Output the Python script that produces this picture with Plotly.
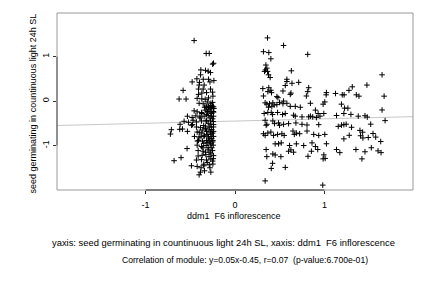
import plotly.graph_objects as go

# ddm1 F6 inflorescence (x) vs seed germinating in continuous light 24h SL (y)
left_group = [
    (-0.457, 1.36), (-0.322, 1.07), (-0.288, 1.07), (-0.240, 0.85), (-0.25, 0.83),
    (-0.382, 0.70), (-0.330, 0.69), (-0.300, 0.67), (-0.274, 0.64), (-0.385, 0.59),
    (-0.426, 0.50), (-0.355, 0.49), (-0.296, 0.49), (-0.479, 0.43), (-0.397, 0.42),
    (-0.28, 0.43), (-0.236, 0.46), (-0.401, 0.36), (-0.345, 0.36), (-0.58, 0.24),
    (-0.408, 0.27), (-0.356, 0.27), (-0.274, 0.27), (-0.625, 0.045), (-0.547, 0.045),
    (-0.408, 0.15), (-0.371, 0.18), (-0.318, 0.19), (-0.251, 0.20), (-0.423, 0.06),
    (-0.371, 0.05), (-0.333, 0.04), (-0.296, 0.07), (-0.247, 0.11), (-0.401, -0.05),
    (-0.356, -0.06), (-0.34, -0.14), (-0.32, -0.14), (-0.30, -0.15), (-0.28, -0.14),
    (-0.26, -0.15), (-0.24, -0.13),
    (-0.322, -0.114), (-0.296, -0.129), (-0.273, -0.144), (-0.251, -0.114), (-0.236, -0.167),
    (-0.457, -0.22), (-0.423, -0.242), (-0.375, -0.258), (-0.333, -0.205), (-0.307, -0.235),
    (-0.27, -0.25), (-0.243, -0.235),
    (-0.532, -0.341), (-0.479, -0.371), (-0.438, -0.333), (-0.393, -0.356), (-0.345, -0.341),
    (-0.300, -0.326), (-0.266, -0.341), (-0.240, -0.341),
    (-0.569, -0.455), (-0.614, -0.523), (-0.521, -0.477), (-0.468, -0.432), (-0.431, -0.47),
    (-0.375, -0.447), (-0.322, -0.432), (-0.273, -0.447), (-0.243, -0.462), (-0.475, -0.53),
    (-0.711, -0.644), (-0.722, -0.742), (-0.618, -0.636), (-0.588, -0.629), (-0.532, -0.682),
    (-0.487, -0.545), (-0.431, -0.583), (-0.386, -0.598), (-0.330, -0.583), (-0.288, -0.583),
    (-0.266, -0.583), (-0.240, -0.583),
    (-0.423, -0.697), (-0.371, -0.72), (-0.318, -0.682), (-0.273, -0.697), (-0.240, -0.682),
    (-0.453, -0.795), (-0.401, -0.811), (-0.348, -0.795), (-0.296, -0.811), (-0.266, -0.795),
    (-0.240, -0.795),
    (-0.408, -0.886), (-0.363, -0.902), (-0.318, -0.886), (-0.281, -0.902), (-0.247, -0.886),
    (-0.536, -1.068), (-0.423, -0.992), (-0.375, -1.023), (-0.322, -1.0), (-0.277, -0.985),
    (-0.243, -0.992),
    (-0.412, -1.114), (-0.356, -1.129), (-0.300, -1.098), (-0.251, -1.114),
    (-0.412, -1.235), (-0.367, -1.22), (-0.326, -1.205), (-0.27, -1.189), (-0.240, -1.227),
    (-0.603, -1.273), (-0.681, -1.341), (-0.431, -1.326), (-0.375, -1.318), (-0.318, -1.326),
    (-0.270, -1.303), (-0.243, -1.295),
    (-0.487, -1.455), (-0.423, -1.47), (-0.348, -1.455), (-0.288, -1.432), (-0.247, -1.417),
    (-0.386, -1.598), (-0.401, -1.659), (-0.341, -1.568), (-0.27, -1.598),
    (-0.31, -0.02), (-0.27, -0.05), (-0.25, -0.03), (-0.29, -0.2), (-0.26, -0.28),
    (-0.32, -0.3), (-0.28, -0.38), (-0.25, -0.4), (-0.30, -0.5), (-0.27, -0.52),
    (-0.24, -0.53), (-0.33, -0.62), (-0.29, -0.65), (-0.26, -0.64), (-0.31, -0.75),
    (-0.27, -0.74), (-0.25, -0.72), (-0.29, -0.85), (-0.26, -0.84), (-0.31, -0.93),
    (-0.27, -0.95), (-0.25, -0.92), (-0.30, -1.05), (-0.26, -1.05), (-0.28, -1.15),
    (-0.32, -0.45), (-0.35, -0.55), (-0.34, -0.78), (-0.36, -0.65), (-0.38, -0.8),
    (-0.35, -0.95), (-0.39, -0.38), (-0.37, -0.28), (-0.40, -0.7), (-0.42, -0.9),
    (-0.36, -1.05), (-0.33, -1.15), (-0.29, -1.25), (-0.25, -1.35), (-0.28, -1.5),
    (-0.31, -1.38), (-0.35, -1.42), (-0.38, -1.5), (-0.27, -0.1), (-0.24, -0.25),
]

right_group = [
    (0.363, 1.42), (0.543, 1.25), (0.318, 1.11), (0.378, 1.09), (0.813, 1.05), (0.401, 0.95),
    (0.345, 0.81), (0.356, 0.74), (0.341, 0.70), (0.363, 0.667), (0.330, 0.667), (0.375, 0.59),
    (0.393, 0.53), (0.63, 0.68),
    (0.58, 0.49), (0.562, 0.35), (0.637, 0.40), (0.712, 0.42), (0.58, 0.44),
    (0.311, 0.28), (0.378, 0.30), (0.401, 0.243), (0.367, 0.212), (0.408, 0.189), (0.318, 0.114),
    (0.468, 0.10), (0.48, 0.076), (0.536, 0.227), (0.626, 0.18), (0.618, 0.15), (0.824, 0.30),
    (0.813, 0.212), (0.798, 0.114), (0.843, -0.05),
    (0.337, -0.04), (0.356, -0.07), (0.386, -0.06), (0.423, -0.04), (0.438, -0.09), (0.498, -0.03),
    (0.536, -0.06), (0.58, -0.05), (0.618, -0.12), (0.674, -0.12), (0.730, -0.14), (0.543, 0.0),
    (0.375, -0.14), (0.412, -0.12), (0.468, -0.08),
    (1.644, 0.59), (1.475, 0.36), (1.311, 0.32), (1.274, 0.24), (1.022, 0.19), (1.019, 0.14),
    (1.124, 0.17), (1.199, 0.14), (1.22, 0.14), (1.356, 0.14), (1.386, 0.11), (1.667, 0.11),
    (1.004, -0.02), (0.985, -0.07), (1.19, -0.07), (1.225, -0.16), (1.262, -0.16),
    (0.899, -0.204), (0.929, -0.28), (0.993, -0.28),
    (0.326, -0.28), (0.367, -0.257), (0.405, -0.257), (0.42, -0.303), (0.476, -0.257),
    (0.532, -0.303), (0.562, -0.28), (0.655, -0.318), (0.674, -0.34), (0.749, -0.356),
    (0.824, -0.356), (0.843, -0.34), (0.869, -0.356), (0.91, -0.371), (0.95, -0.34),
    (0.337, -0.432), (0.348, -0.545), (0.356, -0.523), (0.423, -0.447), (0.442, -0.508),
    (0.487, -0.492), (0.498, -0.545), (0.543, -0.523), (0.599, -0.508), (0.681, -0.492),
    (0.749, -0.523), (0.805, -0.538), (0.936, -0.53),
    (0.318, -0.735), (0.337, -0.773), (0.367, -0.72), (0.401, -0.697), (0.431, -0.773),
    (0.476, -0.75), (0.524, -0.735), (0.55, -0.773), (0.648, -0.674), (0.663, -0.75),
    (0.686, -0.72), (0.723, -0.735), (0.805, -0.674), (0.880, -0.75), (0.936, -0.773),
    (0.449, -0.962), (0.487, -0.962), (0.517, -0.94), (0.61, -1.0), (0.599, -1.129),
    (0.625, -1.098), (0.655, -1.15), (0.686, -0.962), (0.768, -1.0), (0.861, -0.94),
    (0.899, -1.023), (0.925, -1.09), (0.854, -1.129), (0.816, -1.242),
    (0.348, -1.09), (0.356, -1.25), (0.423, -1.189), (0.449, -1.212), (0.513, -1.25),
    (0.42, -1.4), (0.405, -1.515), (0.562, -1.492), (0.337, -1.795),
    (1.135, -0.325), (1.217, -0.28), (1.296, -0.30), (1.378, -0.34), (1.453, -0.33),
    (1.479, -0.36), (1.678, -0.44), (1.644, -0.20),
    (1.154, -0.57), (1.191, -0.54), (1.217, -0.53), (1.243, -0.52), (1.303, -0.59),
    (1.397, -0.66), (1.427, -0.70), (1.517, -0.52),
    (1.004, -0.75), (1.022, -0.96), (1.277, -0.77), (1.217, -0.85),
    (1.404, -0.78), (1.43, -0.83), (1.49, -0.82), (1.543, -0.73), (1.573, -0.81), (1.629, -0.91),
    (1.135, -1.09), (1.172, -1.16), (1.352, -1.09), (1.453, -1.14), (1.524, -1.05),
    (1.599, -1.12), (1.633, -1.16), (1.419, -1.30),
    (0.993, -1.21), (1.008, -1.29), (0.985, -1.30), (0.981, -1.89),
]

x_vals = [p[0] for p in left_group + right_group]
y_vals = [p[1] for p in left_group + right_group]

fit_slope = 0.05
fit_intercept = -0.45
fit_x = [-2.0, 2.0]
fit_y = [fit_slope * v + fit_intercept for v in fit_x]

tick_vals = [-1, 0, 1]
tick_text = ["-1", "0", "1"]

x_label = "ddm1  F6 inflorescence"
y_label = "seed germinating in countinuous light 24h SL"
caption1 = "yaxis: seed germinating in countinuous light 24h SL, xaxis: ddm1  F6 inflorescence"
caption2 = "Correlation of module: y=0.05x-0.45, r=0.07  (p-value:6.700e-01)"

FONT = "Liberation Sans, Arial, Helvetica, sans-serif"

fig = go.Figure()
fig.add_trace(go.Scatter(x=fit_x, y=fit_y, mode="lines",
                         line=dict(color="#c8c8c8", width=1), hoverinfo="skip"))
fig.add_trace(go.Scatter(x=x_vals, y=y_vals, mode="markers",
                         marker=dict(symbol="cross-thin", size=4, color="black",
                                     line=dict(color="black", width=1))))

fig.update_layout(
    width=432, height=288, autosize=False,
    margin=dict(l=57, r=19, t=13, b=98, pad=0),
    paper_bgcolor="white", plot_bgcolor="white",
    showlegend=False,
    font=dict(family=FONT, size=9, color="black"),
    xaxis=dict(range=[-1.99, 1.99], tickvals=tick_vals, ticktext=tick_text,
               ticks="outside", ticklen=3, tickcolor="#333", tickwidth=1,
               ticklabelstandoff=3,
               showgrid=False, zeroline=False, showline=False,
               tickfont=dict(size=9, family=FONT, color="black")),
    yaxis=dict(range=[-2.0, 1.98], tickvals=tick_vals, ticktext=tick_text,
               ticks="outside", ticklen=3, tickcolor="#333", tickwidth=1,
               tickangle=-90,
               showgrid=False, zeroline=False, showline=False,
               tickfont=dict(size=9, family=FONT, color="black")),
    shapes=[
        dict(type="rect", xref="paper", yref="paper", x0=0, y0=0, x1=1, y1=1,
             line=dict(color="#999999", width=1)),
        dict(type="line", xref="x", yref="paper", x0=-1, x1=1, y0=0, y1=0,
             line=dict(color="#333333", width=1)),
        dict(type="line", xref="paper", yref="y", x0=0, x1=0, y0=-1, y1=1,
             line=dict(color="#555555", width=1)),
    ],
    annotations=[
        dict(text=x_label, xref="paper", yref="paper", x=0.497, y=-0.147,
             xanchor="center", yanchor="middle", showarrow=False, font=dict(size=9)),
        dict(text=y_label, xref="paper", yref="paper", x=-0.067, y=0.49,
             xanchor="center", yanchor="middle", textangle=-90, showarrow=False,
             font=dict(size=9)),
        dict(text=caption1, xref="paper", yref="paper", x=0.469, y=-0.294,
             xanchor="center", yanchor="middle", showarrow=False, font=dict(size=9.4)),
        dict(text=caption2, xref="paper", yref="paper", x=0.529, y=-0.395,
             xanchor="center", yanchor="middle", showarrow=False, font=dict(size=8.6)),
    ],
)

fig.write_html("out.html")
